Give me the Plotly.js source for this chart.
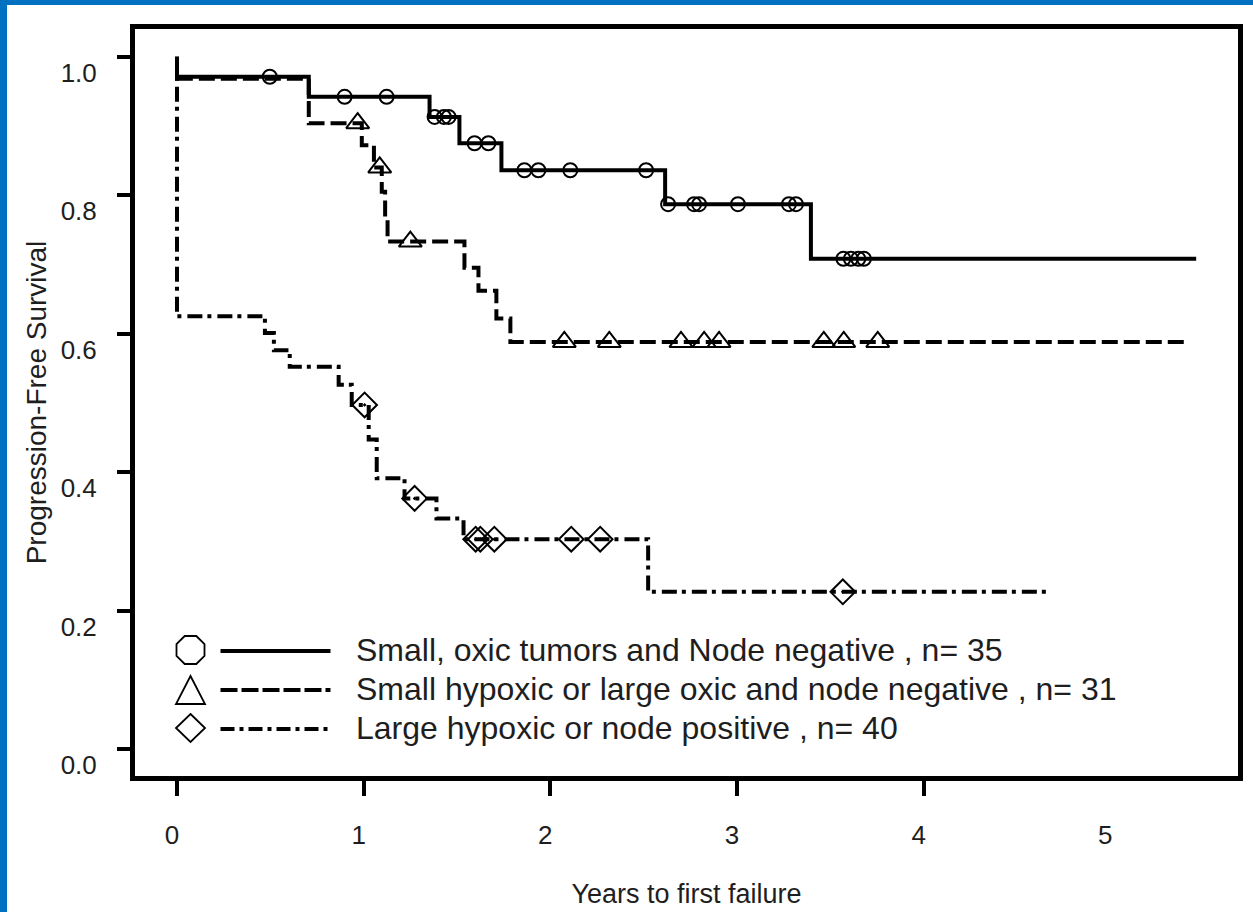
<!DOCTYPE html>
<html>
<head>
<meta charset="utf-8">
<script src="https://cdn.plot.ly/plotly-3.0.1.min.js"></script>
<style>
  html, body { margin: 0; padding: 0; background: #ffffff; }
  #chart { position: absolute; left: 0; top: 0; width: 1253px; height: 912px; }
  .bar-top { position: absolute; left: 0; top: 0; width: 1253px; height: 5px; background: #0070c0; z-index: 5; }
  .bar-left { position: absolute; left: 0; top: 0; width: 7px; height: 912px; background: #0070c0; z-index: 5; }
</style>
</head>
<body>
<div id="chart"></div>
<div class="bar-top"></div>
<div class="bar-left"></div>
<script>
// ---- Data ----
// Group 1: Small, oxic tumors and Node negative (solid, circles)
const g1Times    = [0, 0, 0.706, 1.353, 1.513, 1.738, 2.615, 3.396, 5.46];
const g1Surv     = [1.0, 0.971, 0.942, 0.913, 0.875, 0.836, 0.787, 0.708, 0.708];
const g1CensT    = [0.497, 0.898, 1.123, 1.38, 1.43, 1.455, 1.594, 1.668, 1.861, 1.936, 2.107, 2.513,
                    2.631, 2.77, 2.797, 3.005, 3.278, 3.316, 3.57, 3.61, 3.65, 3.68];
const g1CensS    = [0.971, 0.942, 0.942, 0.913, 0.913, 0.913, 0.875, 0.875, 0.836, 0.836, 0.836, 0.836,
                    0.787, 0.787, 0.787, 0.787, 0.787, 0.787, 0.708, 0.708, 0.708, 0.708];

// Group 2: Small hypoxic or large oxic and node negative (dashed, triangles)
const g2Times    = [0, 0, 0.706, 0.99, 1.055, 1.097, 1.115, 1.128, 1.54, 1.615, 1.711, 1.786, 5.41];
const g2Surv     = [1.0, 0.968, 0.904, 0.872, 0.840, 0.805, 0.765, 0.733, 0.695, 0.662, 0.622, 0.588, 0.588];
const g2CensT    = [0.968, 1.086, 1.25, 2.075, 2.316, 2.70, 2.824, 2.904, 3.465, 3.572, 3.754];
const g2CensS    = [0.904, 0.840, 0.733, 0.588, 0.588, 0.588, 0.588, 0.588, 0.588, 0.588, 0.588];

// Group 3: Large hypoxic or node positive (dash-dot, diamonds)
const g3Times    = [0, 0, 0.471, 0.519, 0.604, 0.866, 0.936, 1.027, 1.07, 1.219, 1.39, 1.535, 2.524, 4.668];
const g3Surv     = [1.0, 0.625, 0.601, 0.576, 0.552, 0.526, 0.497, 0.447, 0.391, 0.362, 0.333, 0.303, 0.227, 0.227];
const g3CensT    = [1.005, 1.273, 1.60, 1.625, 1.70, 2.112, 2.267, 3.567];
const g3CensS    = [0.497, 0.362, 0.303, 0.303, 0.303, 0.303, 0.303, 0.227];

const groupNames = [
  "Small, oxic tumors and Node negative , n= 35",
  "Small hypoxic or large oxic and node negative , n= 31",
  "Large hypoxic or node positive , n= 40"
];

const xTickVals   = [0, 1, 2, 3, 4, 5];
const xTickLabels = ["0", "1", "2", "3", "4", "5"];
const yTickVals   = [0, 0.2, 0.4, 0.6, 0.8, 1.0];
const yTickLabels = ["0.0", "0.2", "0.4", "0.6", "0.8", "1.0"];

const xTitle = "Years to first failure";
const yTitle = "Progression-Free Survival";

// ---- Styles ----
const INK = "#000000";
const TXT = "#1e1e1e";
const FONT = "Liberation Sans, Arial, Helvetica, sans-serif";
const LW = 4;
const dashStyles = ["solid", "16px,6px", "15px,5px,4px,6px"];
const legendDash = ["solid", "17px,4px", "14px,5px,4px,5px"];
const X_RANGE = [-0.225, 5.684];

function stepTrace(x, y, dash, xa) {
  return { x: x, y: y, xaxis: xa || "x", yaxis: "y", type: "scatter", mode: "lines",
           line: { shape: "hv", color: INK, width: LW, dash: dash },
           showlegend: false, hoverinfo: "skip" };
}
function censTrace(x, y, symbol, size) {
  return { x: x, y: y, type: "scatter", mode: "markers",
           marker: { symbol: symbol, size: size, color: INK, line: { color: INK, width: 2 } },
           showlegend: false, hoverinfo: "skip" };
}

const traces = [
  stepTrace(g1Times, g1Surv, dashStyles[0]),
  stepTrace(g2Times, g2Surv, dashStyles[1]),
  // drawn on the overlaid x-axis (same range) so that axis carries the untick'd "5" label
  stepTrace(g3Times, g3Surv, dashStyles[2], "x2"),
  censTrace(g1CensT, g1CensS, "circle-open", 14),
  censTrace(g2CensT, g2CensS, "triangle-up-open", 20),
  censTrace(g3CensT, g3CensS, "diamond-open-dot", 19)
];

// ---- Manual legend (pixel offsets from bottom-left corner of plot area) ----
const legRowsY = [126, 87, 48];   // px above plot bottom
const legSymX = 55.5;
const legLineX0 = 85.5, legLineX1 = 195.5;
const legTextX = 218.5;
const symPaths = [
  "M-5.8,14 L5.8,14 L14,5.8 L14,-5.8 L5.8,-14 L-5.8,-14 L-14,-5.8 L-14,5.8 Z",
  "M0,14 L14.5,-14 L-14.5,-14 Z",
  "M0,14 L14.5,0 L0,-14 L-14.5,0 Z"
];

const shapes = [];
const annotations = [];
groupNames.forEach(function (name, i) {
  const yRow = legRowsY[i];
  shapes.push({ type: "path", xref: "paper", yref: "paper", xsizemode: "pixel", ysizemode: "pixel",
    xanchor: 0, yanchor: 0,
    path: symPaths[i].replace(/(-?\d+(\.\d+)?),(-?\d+(\.\d+)?)/g, function (m, a, b, c) {
      return (legSymX + parseFloat(a)).toFixed(2) + "," + (yRow + parseFloat(c) + (i === 1 ? -1 : 0)).toFixed(2);
    }),
    line: { color: INK, width: 1.8 }, fillcolor: "rgba(0,0,0,0)" });
  shapes.push({ type: "line", xref: "paper", yref: "paper", xsizemode: "pixel", ysizemode: "pixel",
    xanchor: 0, yanchor: 0, x0: legLineX0, x1: legLineX1, y0: yRow - 1, y1: yRow - 1,
    line: { color: INK, width: LW, dash: legendDash[i] } });
  annotations.push({ xref: "paper", yref: "paper", x: 0, y: 0, xshift: legTextX, yshift: yRow,
    xanchor: "left", yanchor: "middle", showarrow: false, text: name,
    font: { family: FONT, size: 32, color: TXT } });
});

const layout = {
  width: 1253, height: 912,
  margin: { l: 135, r: 15, t: 29, b: 136, pad: 0 },
  paper_bgcolor: "rgba(0,0,0,0)",
  plot_bgcolor: "#ffffff",
  font: { family: FONT, color: TXT },
  showlegend: false,
  xaxis: {
    range: X_RANGE,
    tickvals: xTickVals.slice(0, 5), ticktext: xTickLabels.slice(0, 5),
    ticks: "outside", ticklen: 15, tickwidth: 4, tickcolor: INK,
    showline: true, linewidth: 5, linecolor: INK, mirror: true,
    showgrid: false, zeroline: false,
    tickfont: { family: FONT, size: 26, color: TXT },
    ticklabelstandoff: 17, ticklabelshift: -5,
    title: { text: xTitle, font: { family: FONT, size: 27, color: TXT }, standoff: 36 }
  },
  xaxis2: {
    overlaying: "x", anchor: "y", side: "bottom",
    range: X_RANGE,
    tickvals: xTickVals.slice(5), ticktext: xTickLabels.slice(5),
    ticks: "", showline: false, showgrid: false, zeroline: false,
    tickfont: { family: FONT, size: 26, color: TXT },
    ticklabelstandoff: 41, ticklabelshift: -5
  },
  yaxis: {
    range: [-0.039, 1.040],
    tickvals: yTickVals, ticktext: yTickLabels,
    ticks: "outside", ticklen: 13, tickwidth: 4, tickcolor: INK,
    showline: true, linewidth: 5, linecolor: INK, mirror: true,
    showgrid: false, zeroline: false,
    tickfont: { family: FONT, size: 26, color: TXT },
    ticklabelstandoff: 15, ticklabelshift: 16,
    title: { text: yTitle, font: { family: FONT, size: 28, color: TXT }, standoff: 7 }
  },
  shapes: shapes,
  annotations: annotations
};

Plotly.newPlot("chart", traces, layout, { displayModeBar: false, staticPlot: true });
</script>
</body>
</html>
